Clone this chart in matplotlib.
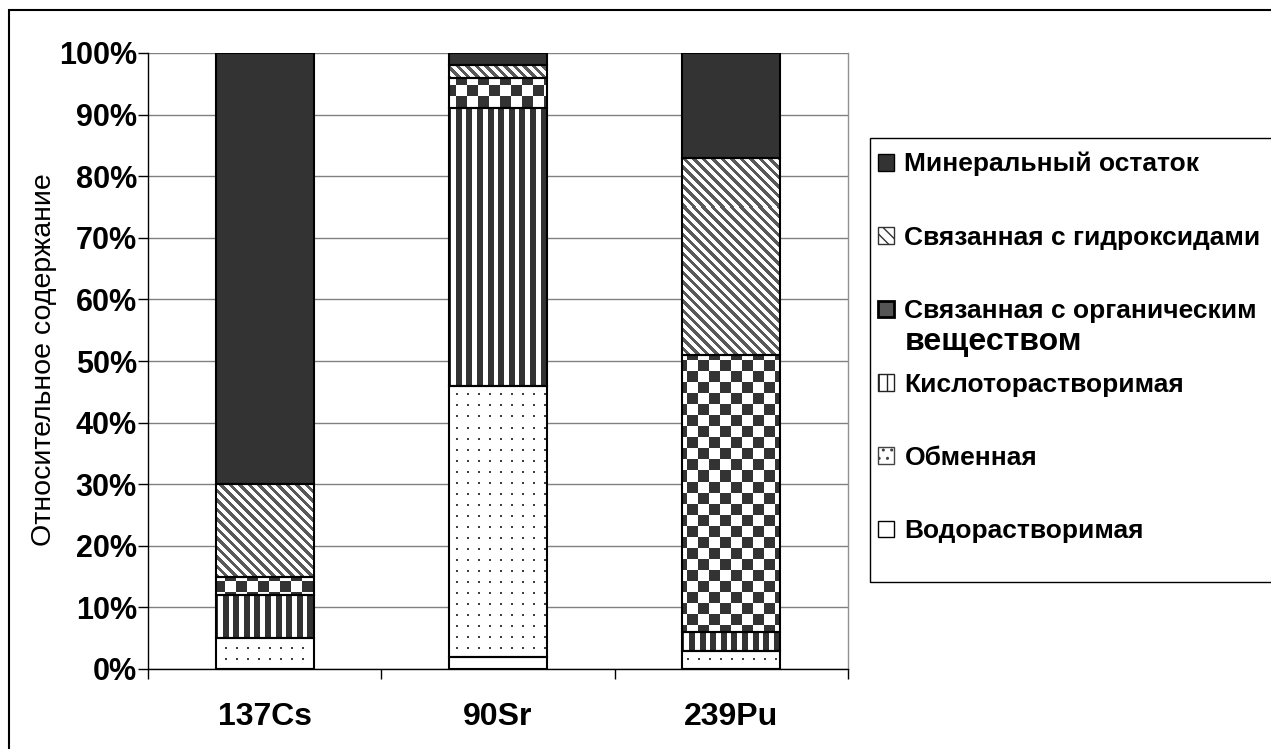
# -*- coding: utf-8 -*-
"""
Формы нахождения радионуклидов в почве: относительное содержание фракций
для 137Cs, 90Sr и 239Pu (столбчатая диаграмма с накоплением, 100%).
"""

import numpy as np
import matplotlib
matplotlib.use("Agg")
import matplotlib.pyplot as plt
from matplotlib.patches import Patch, Rectangle
from matplotlib.ticker import PercentFormatter, FixedLocator

plt.rcParams["font.family"] = ["Liberation Sans", "DejaVu Sans"]

# Данные (% от суммы)
nuclides = ["137Cs", "90Sr", "239Pu"]
water = [0, 2, 0]          # Водорастворимая
exchange = [5, 44, 3]      # Обменная
acid = [7, 45, 3]          # Кислоторастворимая
organic = [3, 5, 45]       # Связанная с органическим веществом
hydroxide = [15, 2, 32]    # Связанная с гидроксидами
mineral = [70, 2, 17]      # Минеральный остаток

names = ["Водорастворимая", "Обменная", "Кислоторастворимая",
         "Связанная с органическим", "Связанная с гидроксидами",
         "Минеральный остаток"]

DARK = "#333333"
FIG_W, FIG_H = 1271, 749


def pattern(kind, h, w):
    """Возвращает RGB-массив узора размером h x w пикселей."""
    r, c = np.mgrid[0:h, 0:w]
    img = np.ones((h, w, 3))
    if kind == "dots":
        mask = (r % 11 < 2) & (c % 11 < 2)
        img[mask] = 0.25
    elif kind == "vstripes":
        mask = (c % 10.6) < 6
        img[mask] = 0.2
    elif kind == "checker":
        mask = ((r // 11) + (c // 11)) % 2 == 0
        img[mask] = 0.2
    elif kind == "diag":
        mask = ((c - r) % 9.5) < 4.2
        img[mask] = 0.35
    elif kind == "solid":
        img[:] = 0.2
    return img


def main():
    fig = plt.figure(figsize=(FIG_W / 100, FIG_H / 100), dpi=100)
    left, right, top, bottom = 148, 848, 53, 669
    ax = fig.add_axes([left / FIG_W, 1 - bottom / FIG_H,
                       (right - left) / FIG_W, (bottom - top) / FIG_H])
    ax_w, ax_h = right - left, bottom - top

    x = np.arange(len(nuclides))
    width = 0.42
    series = [water, exchange, acid, organic, hydroxide, mineral]
    kinds = ["white", "dots", "vstripes", "checker", "diag", "solid"]

    base = np.zeros(len(nuclides))
    for vals, kind in zip(series, kinds):
        vals = np.array(vals) / 100.0
        fill = ax.bar(x, vals, width, bottom=base, color="white",
                      edgecolor="none", zorder=2)
        if kind != "white":
            img = pattern(kind, ax_h, ax_w)
            for patch in fill:
                if patch.get_height() <= 0:
                    continue
                im = ax.imshow(img, extent=(0, 1, 0, 1), transform=ax.transAxes,
                               aspect="auto", interpolation="nearest", zorder=2.5)
                im.set_clip_path(patch)
        ax.bar(x, vals, width, bottom=base, facecolor="none",
               edgecolor="black", linewidth=1.5, zorder=3)
        base += vals

    # Оси
    ax.set_xlim(-0.5, 2.5)
    ax.set_ylim(0, 1)
    ax.set_yticks(np.arange(0, 1.01, 0.1))
    ax.yaxis.set_major_formatter(PercentFormatter(xmax=1, decimals=0))
    ax.set_xticks(x)
    ax.set_xticklabels(nuclides)
    ax.xaxis.set_minor_locator(FixedLocator([-0.5, 0.5, 1.5, 2.5]))
    ax.tick_params(axis="x", which="major", length=0, pad=24,
                   labelsize=23)
    ax.tick_params(axis="x", which="minor", length=7, width=1, direction="out")
    ax.tick_params(axis="y", length=7, width=1, direction="out", pad=1,
                   labelsize=22)
    for lbl in ax.get_xticklabels() + ax.get_yticklabels():
        lbl.set_fontweight("bold")

    ax.grid(axis="y", color="#808080", linewidth=1)
    ax.set_axisbelow(True)
    ax.spines["top"].set_visible(False)
    ax.spines["right"].set_color("#909090")
    ax.spines["right"].set_linewidth(1)
    ax.spines["left"].set_linewidth(1)
    ax.spines["bottom"].set_linewidth(1)

    fig.text(44 / FIG_W, 1 - 360 / FIG_H, "Относительное содержание",
             rotation=90, ha="center", va="center", fontsize=20.5)

    # Легенда (в обратном порядке – сверху вниз)
    handles = [
        Patch(facecolor=DARK, edgecolor="black"),
        Patch(facecolor="white", edgecolor="#333333", hatch="\\\\\\"),
        Patch(facecolor="#555555", edgecolor="black", linewidth=2),
        Patch(facecolor="white", edgecolor="#222222", hatch="||"),
        Patch(facecolor="white", edgecolor="#444444", hatch=".."),
        Patch(facecolor="white", edgecolor="black"),
    ]
    leg = fig.legend(handles, names[::-1], loc="upper left",
                     bbox_to_anchor=(878 / FIG_W, 1 - 152 / FIG_H),
                     frameon=False, prop={"weight": "bold", "size": 19},
                     handlelength=0.6, handleheight=0.6, handletextpad=0.4,
                     labelspacing=1.87, borderpad=0, borderaxespad=0)

    fig.canvas.draw()
    renderer = fig.canvas.get_renderer()
    bb = leg.get_texts()[2].get_window_extent(renderer)
    fig.text(bb.x0 / FIG_W, ((bb.y0 + bb.y1) / 2 - 31) / FIG_H, "веществом",
             ha="left", va="center", fontsize=23, fontweight="bold")

    # Рамка легенды и внешняя рамка
    fig.add_artist(Rectangle((870 / FIG_W, 1 - 582 / FIG_H), 0.5,
                             (582 - 138) / FIG_H, transform=fig.transFigure,
                             fill=False, edgecolor="black", linewidth=1,
                             clip_on=False))
    fig.add_artist(Rectangle((9 / FIG_W, -0.5), 2, 1.5 - 10 / FIG_H,
                             transform=fig.transFigure, fill=False,
                             edgecolor="black", linewidth=1.5, clip_on=False))

    fig.savefig("out.png", dpi=100)


if __name__ == "__main__":
    main()
